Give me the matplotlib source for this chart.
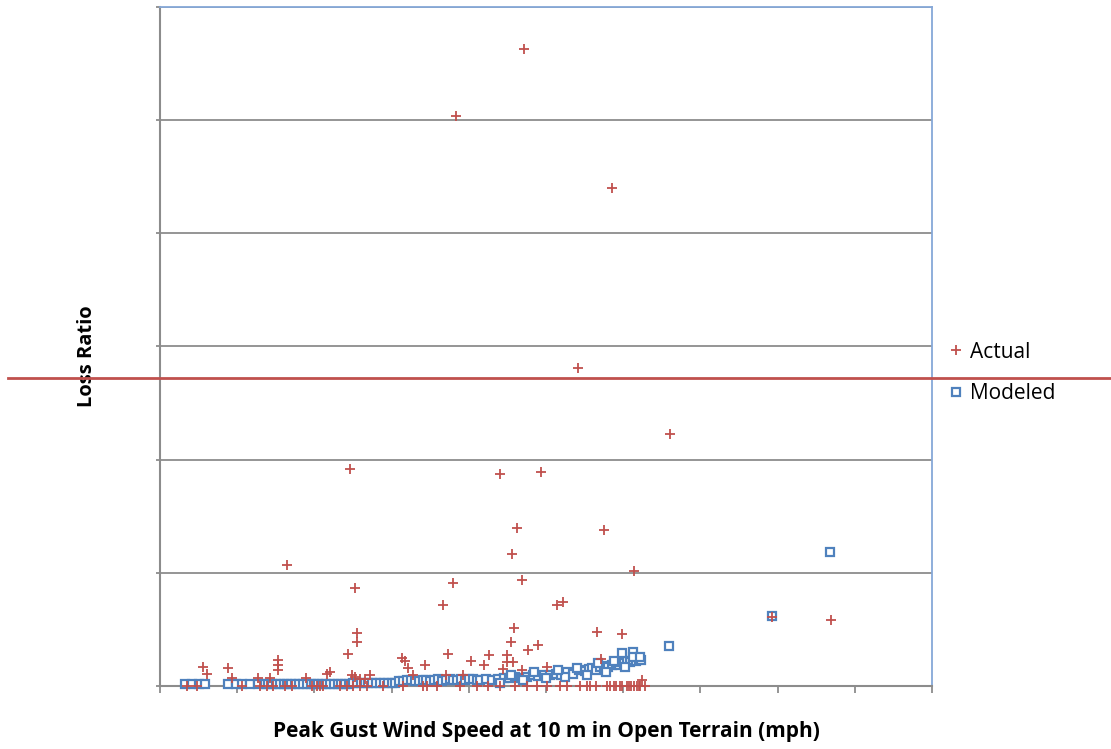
import matplotlib
matplotlib.use("Agg")
import matplotlib.pyplot as plt

# Actual loss ratios (red plus markers)
actual_x = [94.3, 76.7, 117.1, 108.3, 132.1, 49.2, 88.1, 98.7, 92.5, 115.0,
            91.2, 32.9, 122.8, 93.8, 75.9, 50.5, 73.3, 102.8, 104.4, 158.5,
            173.8, 91.7, 113.2, 119.7,
            11.1, 12.1, 17.7, 18.6, 25.3, 30.6, 30.6, 30.6, 28.5, 37.8,
            43.2, 51.0, 51.0, 48.8, 44.0, 49.7, 54.4, 62.6, 63.5, 64.3,
            65.6, 68.7, 74.7, 80.5, 83.8, 74.1, 78.4, 90.9, 95.4, 98.0,
            85.3, 89.8, 89.8, 91.5, 88.8, 93.7, 100.2, 114.2, 124.8, 50.5,
            51.8, 53.1,
            6.9, 9.5, 21.2, 25.9, 27.6, 29.4, 32.4, 34.1, 39.3, 40.6,
            42.3, 41.5, 46.6, 48.4, 50.1, 51.8, 53.5, 57.8, 63.0, 68.2,
            69.1, 71.7, 77.7, 82.0, 97.6, 100.2, 103.6, 105.4, 108.8, 110.5,
            111.4, 115.7, 116.6, 119.2, 120.9, 122.7, 124.4, 85.0, 88.0, 92.0,
            95.0, 113.0, 118.0, 121.5, 123.5, 125.5, 117.5, 119.8, 122.0, 124.0]
actual_y = [0.563, 0.504, 0.440, 0.281, 0.223, 0.192, 0.187, 0.189, 0.140, 0.138,
            0.117, 0.107, 0.102, 0.094, 0.091, 0.087, 0.072, 0.072, 0.074, 0.061,
            0.058, 0.051, 0.048, 0.046,
            0.017, 0.011, 0.016, 0.007, 0.007, 0.023, 0.019, 0.014, 0.007, 0.007,
            0.011, 0.047, 0.039, 0.028, 0.012, 0.010, 0.010, 0.025, 0.022, 0.016,
            0.010, 0.019, 0.028, 0.022, 0.019, 0.010, 0.010, 0.039, 0.032, 0.036,
            0.027, 0.027, 0.021, 0.021, 0.015, 0.014, 0.017, 0.024, 0.005, 0.008,
            0.006, 0.006,
            0.0, 0.0, 0.0, 0.0, 0.0, 0.0, 0.0, 0.0, 0.0, 0.0,
            0.0, 0.0, 0.0, 0.0, 0.0, 0.0, 0.0, 0.0, 0.0, 0.0,
            0.0, 0.0, 0.0, 0.0, 0.0, 0.0, 0.0, 0.0, 0.0, 0.0,
            0.0, 0.0, 0.0, 0.0, 0.0, 0.0, 0.0, 0.0, 0.0, 0.0,
            0.0, 0.0, 0.0, 0.0, 0.0, 0.0, 0.0, 0.0, 0.0, 0.0]

# Modeled loss ratios (blue hollow squares)
modeled_x = [6.5, 8.3, 10.1, 11.7,
             17.6, 19.7, 21.2, 23.3, 25.4,
             27.2, 28.1, 29.0, 30.0, 31.0, 32.0, 33.0, 34.0, 35.0, 36.0,
             37.0, 38.0, 39.0, 40.0, 41.0, 42.0, 43.0, 44.0, 45.0, 46.0,
             47.0, 48.0, 49.0, 50.0, 51.0, 52.0, 53.0, 54.0, 55.0, 56.0,
             57.0, 58.0, 59.0, 60.0, 61.0, 62.0, 63.0, 64.0, 65.0, 66.0,
             67.0, 68.0, 69.0, 70.0, 71.0, 72.0, 73.0, 74.0, 75.0, 76.0,
             77.0, 78.0, 79.0, 80.0, 81.0, 82.0,
             83.0, 84.5, 86.0, 87.5, 89.0, 90.5, 92.0, 93.5, 95.0, 96.5, 98.0, 99.5,
             101.0, 102.5, 104.0, 105.5, 107.0, 108.5, 110.0,
             111.0, 112.0, 113.0, 114.0, 115.0, 116.0, 117.0, 118.0, 118.8,
             119.5, 120.2, 121.0, 121.8, 122.5, 123.2, 124.0, 124.6,
             119.7, 122.5, 122.5, 124.4,
             120.5, 117.5, 115.5, 113.5, 110.5, 108.0, 105.0, 103.0, 100.0,
             97.0, 94.0, 91.0, 88.0,
             131.9, 158.5, 173.6]
modeled_y = [0.002, 0.002, 0.002, 0.002,
             0.002, 0.002, 0.002, 0.002, 0.002,
             0.002, 0.002, 0.002, 0.002, 0.002, 0.002, 0.002, 0.002, 0.002, 0.002,
             0.002, 0.002, 0.002, 0.002, 0.002, 0.002, 0.002, 0.002, 0.002, 0.002,
             0.002, 0.002, 0.002, 0.003, 0.003, 0.003, 0.003, 0.003, 0.003, 0.003,
             0.003, 0.003, 0.003, 0.003, 0.003, 0.004, 0.004, 0.005, 0.005, 0.004,
             0.004, 0.005, 0.005, 0.004, 0.005, 0.006, 0.004, 0.005, 0.006, 0.005,
             0.005, 0.006, 0.005, 0.006, 0.006, 0.005,
             0.005, 0.006, 0.005, 0.006, 0.007, 0.007, 0.008, 0.007, 0.008, 0.010, 0.009, 0.010,
             0.010, 0.011, 0.010, 0.012, 0.011, 0.014, 0.013,
             0.015, 0.016, 0.014, 0.017, 0.018, 0.017, 0.019, 0.020, 0.019,
             0.021, 0.020, 0.022, 0.021, 0.023, 0.022, 0.024, 0.023,
             0.029, 0.030, 0.026, 0.026,
             0.017, 0.022, 0.012, 0.020, 0.010, 0.016, 0.008, 0.014, 0.007,
             0.012, 0.005, 0.010, 0.003,
             0.035, 0.062, 0.118]

x_ticks = [0, 20, 40, 60, 80, 100, 120, 140, 160, 180, 200]
y_ticks = [0.0, 0.1, 0.2, 0.3, 0.4, 0.5, 0.6]
marker_line = 0.272

red = '#C0504D'
blue = '#4F81BD'
grey = '#8C8C8C'

fig = plt.figure(figsize=(11.11, 7.49), dpi=100)
ax = fig.add_axes([0.144, 0.0841, 0.695, 0.9066])

ax.plot(actual_x, actual_y, linestyle='none', marker='+', markersize=7,
        markeredgewidth=1.3, color=red, label='Actual', clip_on=False, zorder=4)
ax.plot(modeled_x, modeled_y, linestyle='none', marker='s', markersize=5.5,
        markeredgewidth=1.6, markeredgecolor=blue, markerfacecolor='white',
        label='Modeled', clip_on=False, zorder=3)

ax.set_xlim(x_ticks[0], x_ticks[-1])
ax.set_ylim(y_ticks[0], y_ticks[-1])
ax.set_xticks(x_ticks)
ax.set_yticks(y_ticks)
ax.set_xticklabels([])
ax.set_yticklabels([])
ax.tick_params(axis='x', direction='out', length=5, width=1.3, color=grey)
ax.tick_params(axis='y', direction='out', length=3, width=1.3, color=grey)

ax.grid(axis='y', color=grey, linewidth=1.3)
ax.set_axisbelow(True)
ax.spines['left'].set_color(grey)
ax.spines['bottom'].set_color(grey)
ax.spines['left'].set_linewidth(1.5)
ax.spines['bottom'].set_linewidth(1.5)
ax.spines['top'].set_color('#86A8D8')
ax.spines['right'].set_color('#86A8D8')
ax.spines['top'].set_linewidth(1.3)
ax.spines['right'].set_linewidth(1.3)

# red horizontal line across the whole picture
ax.axhline(marker_line, xmin=-0.197, xmax=1.232, color=red, linewidth=2,
           clip_on=False, zorder=5)

ax.set_xlabel('Peak Gust Wind Speed at 10 m in Open Terrain (mph)',
              fontsize=15, fontweight='bold', family='Open Sans', labelpad=17)
ax.set_ylabel('Loss Ratio', fontsize=14.5, fontweight='bold', family='Open Sans')
ax.yaxis.set_label_coords(-0.082, 0.486)

ax.legend(loc='center left', bbox_to_anchor=(0.99, 0.461), frameon=False,
          prop={'family': 'Open Sans', 'size': 15}, handletextpad=0.1,
          labelspacing=1.0, handlelength=1.2)

fig.savefig('out.png', dpi=100)
